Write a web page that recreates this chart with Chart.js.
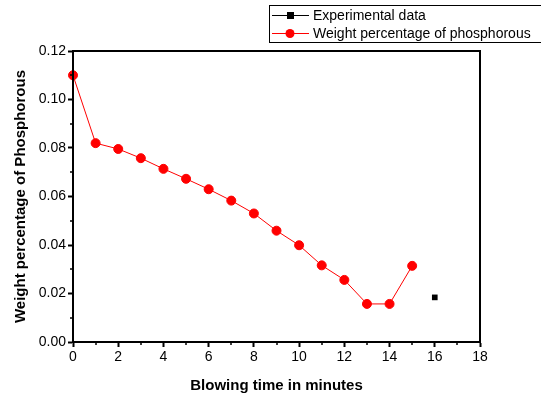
<!DOCTYPE html>
<html>
<head>
<meta charset="utf-8">
<script src="https://cdn.jsdelivr.net/npm/chart.js@4"></script>
<style>
  html, body { margin: 0; padding: 0; background: #fff; }
  #wrap { width: 541px; height: 395px; position: relative; }
</style>
</head>
<body>
<div id="wrap"><canvas id="chart" width="541" height="395"></canvas></div>
<script>
// Blowing time (minutes)
const minutes = [0, 1, 2, 3, 4, 5, 6, 7, 8, 9, 10, 11, 12, 13, 14, 15];
// Weight percentage of phosphorous
const phosphorous = [0.110, 0.082, 0.0796, 0.0758, 0.0714, 0.0673, 0.0630, 0.0583, 0.0530, 0.0459, 0.0399, 0.0316, 0.0256, 0.0157, 0.0157, 0.0314];
// Experimental data point
const expMinutes = [16];
const expValues = [0.0184];

const FONT = 'Arial, "Liberation Sans", sans-serif';

// frame, minor ticks and legend box
const framePlugin = {
    id: 'frame',
    afterDraw(chart) {
        const ctx = chart.ctx;
        const a = chart.chartArea;
        const xs = chart.scales.x, ys = chart.scales.y;
        ctx.save();
        ctx.strokeStyle = '#000';
        ctx.lineWidth = 2;
        ctx.strokeRect(a.left, a.top, a.right - a.left, a.bottom - a.top);

        // minor ticks
        ctx.lineWidth = 1.5;
        ctx.beginPath();
        for (let v = 1; v < 18; v += 2) {
            const px = Math.round(xs.getPixelForValue(v));
            ctx.moveTo(px, a.bottom);
            ctx.lineTo(px, a.bottom + 3);
        }
        for (let v = 0.01; v < 0.12; v += 0.02) {
            const py = Math.round(ys.getPixelForValue(v));
            ctx.moveTo(a.left, py);
            ctx.lineTo(a.left - 3, py);
        }
        ctx.stroke();

        // legend
        const lx = 269, ly = 5, lw = 280, lh = 37;
        ctx.lineWidth = 1;
        ctx.strokeStyle = '#000';
        ctx.strokeRect(lx + 0.5, ly + 0.5, lw, lh);
        const items = [
            { label: 'Experimental data', color: '#000', square: true, y: 15 },
            { label: 'Weight percentage of phosphorous', color: '#ff0000', square: false, y: 33 }
        ];
        ctx.font = '14px ' + FONT;
        ctx.textBaseline = 'middle';
        items.forEach(it => {
            ctx.strokeStyle = it.color;
            ctx.fillStyle = it.color;
            ctx.lineWidth = 1;
            ctx.beginPath();
            ctx.moveTo(272, it.y + 0.5);
            ctx.lineTo(309, it.y + 0.5);
            ctx.stroke();
            if (it.square) {
                ctx.fillRect(287, it.y - 3, 7, 7);
            } else {
                ctx.beginPath();
                ctx.arc(290, it.y + 0.5, 4.5, 0, Math.PI * 2);
                ctx.fill();
            }
            ctx.fillStyle = '#000';
            ctx.fillText(it.label, 313, it.y + 1);
        });
        ctx.restore();
    }
};

new Chart(document.getElementById('chart'), {
    type: 'scatter',
    data: {
        datasets: [
            {
                label: 'Experimental data',
                data: expMinutes.map((m, i) => ({ x: m, y: expValues[i] })),
                pointStyle: 'rect',
                pointRadius: 4,
                backgroundColor: '#000',
                borderColor: '#000',
                borderWidth: 0,
                showLine: false
            },
            {
                label: 'Weight percentage of phosphorous',
                data: minutes.map((m, i) => ({ x: m, y: phosphorous[i] })),
                pointStyle: 'circle',
                pointRadius: 4.5,
                backgroundColor: '#ff0000',
                borderColor: '#ff0000',
                borderWidth: 1,
                showLine: true,
                tension: 0
            }
        ]
    },
    options: {
        responsive: false,
        animation: false,
        clip: false,
        layout: { padding: { top: 51, right: 61, left: 0, bottom: 0 } },
        plugins: {
            legend: { display: false },
            tooltip: { enabled: false }
        },
        scales: {
            x: {
                type: 'linear',
                min: 0,
                max: 18,
                ticks: {
                    stepSize: 2,
                    color: '#000',
                    font: { family: FONT, size: 14 },
                    padding: 2,
                    maxRotation: 0
                },
                grid: { drawOnChartArea: false, tickLength: 5, tickWidth: 2, tickColor: '#000' },
                border: { color: '#000', width: 2 },
                title: {
                    display: true,
                    text: 'Blowing time in minutes',
                    color: '#000',
                    font: { family: FONT, size: 15, weight: 'bold' },
                    padding: { top: 4, bottom: 0 }
                },
                afterFit(s) { s.height = 53; }
            },
            y: {
                min: 0,
                max: 0.12,
                ticks: {
                    stepSize: 0.02,
                    color: '#000',
                    font: { family: FONT, size: 14 },
                    padding: 2,
                    callback: v => v.toFixed(2)
                },
                grid: { drawOnChartArea: false, tickLength: 5, tickWidth: 2, tickColor: '#000' },
                border: { color: '#000', width: 2 },
                title: {
                    display: true,
                    text: 'Weight percentage of Phosphorous',
                    color: '#000',
                    font: { family: FONT, size: 15, weight: 'bold' },
                    padding: { top: 12, bottom: 4 }
                },
                afterFit(s) { s.width = 73; }
            }
        }
    },
    plugins: [framePlugin]
});
</script>
</body>
</html>
